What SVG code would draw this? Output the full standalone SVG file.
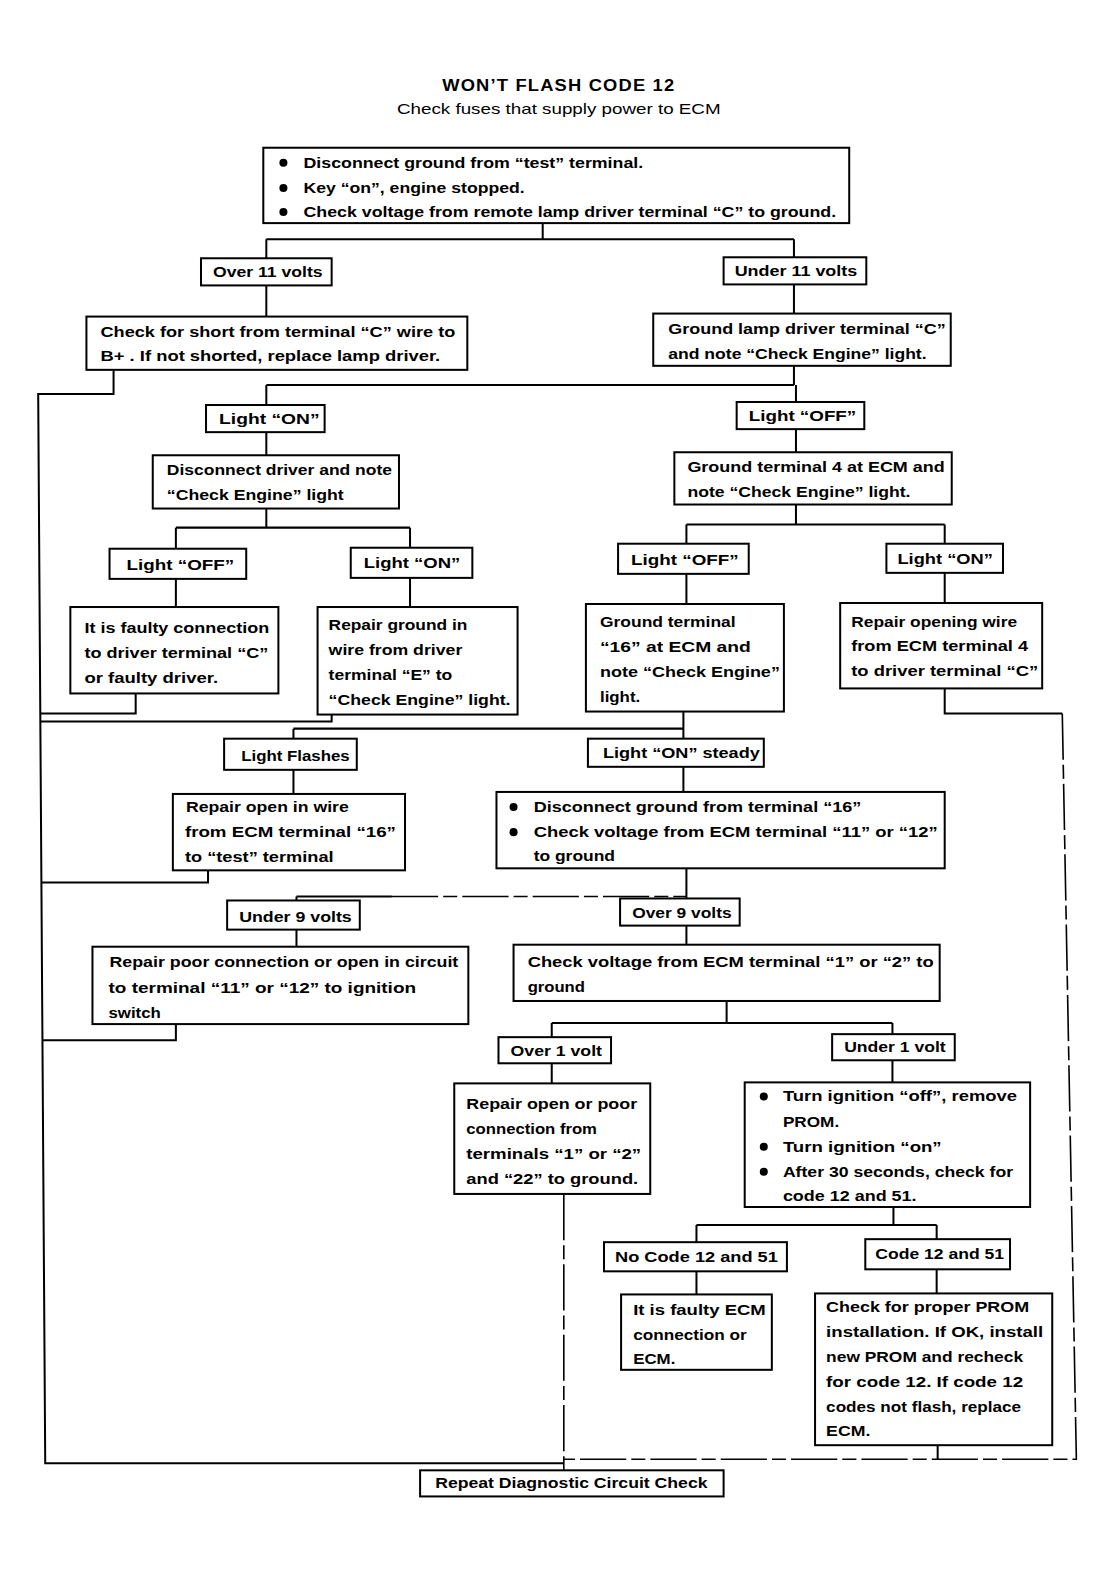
<svg xmlns="http://www.w3.org/2000/svg" width="1115" height="1577" viewBox="0 0 1115 1577">
<style>
.bg{fill:#fff}
.box{fill:#fff;stroke:#000;stroke-width:2}
.c{fill:none;stroke:#000;stroke-width:2}
.d{fill:none;stroke:#000;stroke-width:1.6;stroke-dasharray:46 5 14 5}
text{font-family:"Liberation Sans",Arial,sans-serif;font-size:15px;font-weight:bold;fill:#000}
.t{font-size:15.5px;letter-spacing:1px}
.s{font-size:14.5px;font-weight:normal}
</style>
<rect class="bg" width="1115" height="1577"/>
<g transform="scale(1.005)">
<g id="title">
<text class="t" x="556" y="91" text-anchor="middle" textLength="232" lengthAdjust="spacingAndGlyphs">WON’T FLASH CODE 12</text>
<text class="s" x="556" y="113" text-anchor="middle" textLength="322" lengthAdjust="spacingAndGlyphs">Check fuses that supply power to ECM</text>
</g>
<g id="connectors">
<path class="c" d="M540 222V238M265 238H790M265 238V257M790 238V256"/>
<path class="c" d="M265 284V315M790 283V312"/>
<path class="c" d="M113 368V392H38L45 1456H561"/>
<path class="c" d="M790 364V383M265 383H790M265 383V403M792 383V400"/>
<path class="c" d="M265 430V453M792 427V450"/>
<path class="c" d="M265 506V525M175 525H408M175 525V546M408 525V545"/>
<path class="c" d="M792 502V522M683 522H940M683 522V541M940 522V541"/>
<path class="c" d="M175 576V604M408 575V604M683 571V601M940 570V600"/>
<path class="c" d="M135 690V710H40M330 711V718H40"/>
<path class="c" d="M680 708V725M292 725H680M292 725V735M680 725V735"/>
<path class="c" d="M940 685V710H1057"/>
<path class="d" d="M1057 710L1071 1452H561"/>
<path class="c" d="M292 766V790M680 763V788"/>
<path class="c" d="M207 866V878H41"/>
<path class="c" d="M683 864V892M295 892H390M295 892V896M683 892V894"/>
<path class="d" d="M390 892H683"/>
<path class="c" d="M295 925V942M683 921V940"/>
<path class="c" d="M175 1019V1035H42"/>
<path class="c" d="M723 996V1018M549 1018H888M549 1018V1032M888 1018V1029"/>
<path class="c" d="M549 1058V1078M888 1055V1077"/>
<path class="d" d="M561 1188V1463"/>
<path class="c" d="M889 1201V1219M693 1219H932M693 1219V1236M932 1219V1233"/>
<path class="c" d="M693 1265V1288M932 1263V1287M933 1438V1452"/>
</g>
<g id="n-start">
<rect class="box" x="262" y="147" width="583" height="75"/>
<circle cx="282" cy="162" r="4"/><circle cx="282" cy="187" r="4"/><circle cx="282" cy="211" r="4"/>
<text x="302" y="167" textLength="338" lengthAdjust="spacingAndGlyphs">Disconnect ground from “test” terminal.</text>
<text x="302" y="192" textLength="220" lengthAdjust="spacingAndGlyphs">Key “on”, engine stopped.</text>
<text x="302" y="216" textLength="530" lengthAdjust="spacingAndGlyphs">Check voltage from remote lamp driver terminal “C” to ground.</text>
</g>
<g id="n-over11"><rect class="box" x="200" y="257" width="130" height="27"/><text x="212" y="276" textLength="109" lengthAdjust="spacingAndGlyphs">Over 11 volts</text></g>
<g id="n-under11"><rect class="box" x="720" y="256" width="142" height="27"/><text x="731" y="275" textLength="122" lengthAdjust="spacingAndGlyphs">Under 11 volts</text></g>
<g id="n-short">
<rect class="box" x="86" y="315" width="379" height="53"/>
<text x="100" y="335" textLength="353" lengthAdjust="spacingAndGlyphs">Check for short from terminal “C” wire to</text>
<text x="100" y="359" textLength="338" lengthAdjust="spacingAndGlyphs">B+ .  If not shorted, replace lamp driver.</text>
</g>
<g id="n-gndlamp">
<rect class="box" x="650" y="312" width="296" height="52"/>
<text x="665" y="332" textLength="276" lengthAdjust="spacingAndGlyphs">Ground lamp driver terminal “C”</text>
<text x="665" y="357" textLength="257" lengthAdjust="spacingAndGlyphs">and note “Check Engine” light.</text>
</g>
<g id="n-lon1"><rect class="box" x="205" y="403" width="118" height="27"/><text x="218" y="422" textLength="100" lengthAdjust="spacingAndGlyphs">Light “ON”</text></g>
<g id="n-loff1"><rect class="box" x="733" y="400" width="127" height="27"/><text x="745" y="419" textLength="107" lengthAdjust="spacingAndGlyphs">Light “OFF”</text></g>
<g id="n-discdrv">
<rect class="box" x="152" y="453" width="245" height="53"/>
<text x="166" y="473" textLength="224" lengthAdjust="spacingAndGlyphs">Disconnect driver and note</text>
<text x="166" y="498" textLength="176" lengthAdjust="spacingAndGlyphs">“Check Engine” light</text>
</g>
<g id="n-gnd4">
<rect class="box" x="671" y="450" width="276" height="52"/>
<text x="684" y="470" textLength="256" lengthAdjust="spacingAndGlyphs">Ground terminal 4 at ECM and</text>
<text x="684" y="495" textLength="222" lengthAdjust="spacingAndGlyphs">note “Check Engine” light.</text>
</g>
<g id="n-loff2"><rect class="box" x="109" y="546" width="136" height="30"/><text x="126" y="567" textLength="107" lengthAdjust="spacingAndGlyphs">Light “OFF”</text></g>
<g id="n-lon2"><rect class="box" x="349" y="545" width="121" height="30"/><text x="362" y="565" textLength="96" lengthAdjust="spacingAndGlyphs">Light “ON”</text></g>
<g id="n-loff3"><rect class="box" x="615" y="541" width="130" height="30"/><text x="628" y="562" textLength="107" lengthAdjust="spacingAndGlyphs">Light “OFF”</text></g>
<g id="n-lon3"><rect class="box" x="882" y="541" width="116" height="29"/><text x="893" y="561" textLength="95" lengthAdjust="spacingAndGlyphs">Light “ON”</text></g>
<g id="n-faulty">
<rect class="box" x="70" y="604" width="207" height="86"/>
<text x="84" y="630" textLength="184" lengthAdjust="spacingAndGlyphs">It is faulty connection</text>
<text x="84" y="655" textLength="183" lengthAdjust="spacingAndGlyphs">to driver terminal “C”</text>
<text x="84" y="680" textLength="133" lengthAdjust="spacingAndGlyphs">or faulty driver.</text>
</g>
<g id="n-repgnd">
<rect class="box" x="316" y="604" width="199" height="107"/>
<text x="327" y="627" textLength="138" lengthAdjust="spacingAndGlyphs">Repair ground in</text>
<text x="327" y="652" textLength="133" lengthAdjust="spacingAndGlyphs">wire from driver</text>
<text x="327" y="677" textLength="123" lengthAdjust="spacingAndGlyphs">terminal “E” to</text>
<text x="327" y="701" textLength="181" lengthAdjust="spacingAndGlyphs">“Check Engine” light.</text>
</g>
<g id="n-gnd16">
<rect class="box" x="583" y="601" width="197" height="107"/>
<text x="597" y="624" textLength="135" lengthAdjust="spacingAndGlyphs">Ground terminal</text>
<text x="597" y="649" textLength="150" lengthAdjust="spacingAndGlyphs">“16” at ECM and</text>
<text x="597" y="674" textLength="179" lengthAdjust="spacingAndGlyphs">note “Check Engine”</text>
<text x="597" y="699" textLength="40" lengthAdjust="spacingAndGlyphs">light.</text>
</g>
<g id="n-repopen4">
<rect class="box" x="836" y="600" width="201" height="85"/>
<text x="847" y="624" textLength="165" lengthAdjust="spacingAndGlyphs">Repair opening wire</text>
<text x="847" y="648" textLength="176" lengthAdjust="spacingAndGlyphs">from ECM terminal 4</text>
<text x="847" y="673" textLength="186" lengthAdjust="spacingAndGlyphs">to driver terminal “C”</text>
</g>
<g id="n-flashes"><rect class="box" x="223" y="735" width="132" height="31"/><text x="240" y="757" textLength="108" lengthAdjust="spacingAndGlyphs">Light Flashes</text></g>
<g id="n-steady"><rect class="box" x="585" y="735" width="175" height="28"/><text x="600" y="754" textLength="156" lengthAdjust="spacingAndGlyphs">Light “ON” steady</text></g>
<g id="n-repopen16">
<rect class="box" x="172" y="790" width="231" height="76"/>
<text x="185" y="808" textLength="162" lengthAdjust="spacingAndGlyphs">Repair open in wire</text>
<text x="184" y="833" textLength="210" lengthAdjust="spacingAndGlyphs">from ECM terminal “16”</text>
<text x="184" y="858" textLength="148" lengthAdjust="spacingAndGlyphs">to “test” terminal</text>
</g>
<g id="n-disc16">
<rect class="box" x="494" y="788" width="446" height="76"/>
<circle cx="511" cy="803" r="4"/><circle cx="511" cy="828" r="4"/>
<text x="531" y="808" textLength="326" lengthAdjust="spacingAndGlyphs">Disconnect ground from terminal “16”</text>
<text x="531" y="833" textLength="402" lengthAdjust="spacingAndGlyphs">Check voltage from ECM terminal “11” or “12”</text>
<text x="531" y="857" textLength="81" lengthAdjust="spacingAndGlyphs">to ground</text>
</g>
<g id="n-under9"><rect class="box" x="226" y="896" width="132" height="29"/><text x="238" y="917" textLength="112" lengthAdjust="spacingAndGlyphs">Under 9 volts</text></g>
<g id="n-over9"><rect class="box" x="617" y="894" width="119" height="27"/><text x="629" y="913" textLength="99" lengthAdjust="spacingAndGlyphs">Over 9 volts</text></g>
<g id="n-reppoor">
<rect class="box" x="92" y="942" width="374" height="77"/>
<text x="109" y="962" textLength="347" lengthAdjust="spacingAndGlyphs">Repair poor connection or open in circuit</text>
<text x="108" y="988" textLength="306" lengthAdjust="spacingAndGlyphs">to terminal “11” or “12” to ignition</text>
<text x="108" y="1013" textLength="52" lengthAdjust="spacingAndGlyphs">switch</text>
</g>
<g id="n-check12">
<rect class="box" x="511" y="940" width="424" height="56"/>
<text x="525" y="962" textLength="404" lengthAdjust="spacingAndGlyphs">Check voltage from ECM terminal “1” or “2” to</text>
<text x="525" y="987" textLength="57" lengthAdjust="spacingAndGlyphs">ground</text>
</g>
<g id="n-over1"><rect class="box" x="496" y="1032" width="112" height="26"/><text x="508" y="1051" textLength="91" lengthAdjust="spacingAndGlyphs">Over 1 volt</text></g>
<g id="n-under1"><rect class="box" x="828" y="1029" width="122" height="26"/><text x="840" y="1047" textLength="101" lengthAdjust="spacingAndGlyphs">Under 1 volt</text></g>
<g id="n-repopen12">
<rect class="box" x="452" y="1078" width="195" height="110"/>
<text x="464" y="1103" textLength="170" lengthAdjust="spacingAndGlyphs">Repair open or poor</text>
<text x="464" y="1128" textLength="130" lengthAdjust="spacingAndGlyphs">connection from</text>
<text x="464" y="1153" textLength="174" lengthAdjust="spacingAndGlyphs">terminals “1” or “2”</text>
<text x="464" y="1178" textLength="171" lengthAdjust="spacingAndGlyphs">and “22” to ground.</text>
</g>
<g id="n-turnign">
<rect class="box" x="741" y="1077" width="284" height="124"/>
<circle cx="760" cy="1091" r="4"/><circle cx="760" cy="1141" r="4"/><circle cx="760" cy="1166" r="4"/>
<text x="779" y="1096" textLength="233" lengthAdjust="spacingAndGlyphs">Turn ignition “off”, remove</text>
<text x="779" y="1121" textLength="56" lengthAdjust="spacingAndGlyphs">PROM.</text>
<text x="779" y="1146" textLength="158" lengthAdjust="spacingAndGlyphs">Turn ignition “on”</text>
<text x="779" y="1171" textLength="229" lengthAdjust="spacingAndGlyphs">After 30 seconds, check for</text>
<text x="779" y="1195" textLength="133" lengthAdjust="spacingAndGlyphs">code 12 and 51.</text>
</g>
<g id="n-nocode"><rect class="box" x="601" y="1236" width="182" height="29"/><text x="612" y="1256" textLength="162" lengthAdjust="spacingAndGlyphs">No Code 12 and 51</text></g>
<g id="n-code"><rect class="box" x="861" y="1233" width="144" height="30"/><text x="871" y="1253" textLength="128" lengthAdjust="spacingAndGlyphs">Code 12 and 51</text></g>
<g id="n-faultyecm">
<rect class="box" x="618" y="1288" width="150" height="75"/>
<text x="630" y="1308" textLength="132" lengthAdjust="spacingAndGlyphs">It is faulty ECM</text>
<text x="630" y="1333" textLength="113" lengthAdjust="spacingAndGlyphs">connection or</text>
<text x="630" y="1357" textLength="42" lengthAdjust="spacingAndGlyphs">ECM.</text>
</g>
<g id="n-prom">
<rect class="box" x="811" y="1287" width="236" height="151"/>
<text x="822" y="1305" textLength="202" lengthAdjust="spacingAndGlyphs">Check for proper PROM</text>
<text x="822" y="1330" textLength="216" lengthAdjust="spacingAndGlyphs">installation.  If OK, install</text>
<text x="822" y="1355" textLength="196" lengthAdjust="spacingAndGlyphs">new PROM and recheck</text>
<text x="822" y="1380" textLength="196" lengthAdjust="spacingAndGlyphs">for code 12.  If code 12</text>
<text x="822" y="1405" textLength="194" lengthAdjust="spacingAndGlyphs">codes not flash, replace</text>
<text x="822" y="1429" textLength="44" lengthAdjust="spacingAndGlyphs">ECM.</text>
</g>
<g id="n-repeat"><rect class="box" x="418" y="1463" width="302" height="26"/><text x="433" y="1481" textLength="271" lengthAdjust="spacingAndGlyphs">Repeat Diagnostic Circuit Check</text></g>
</g>
</svg>
